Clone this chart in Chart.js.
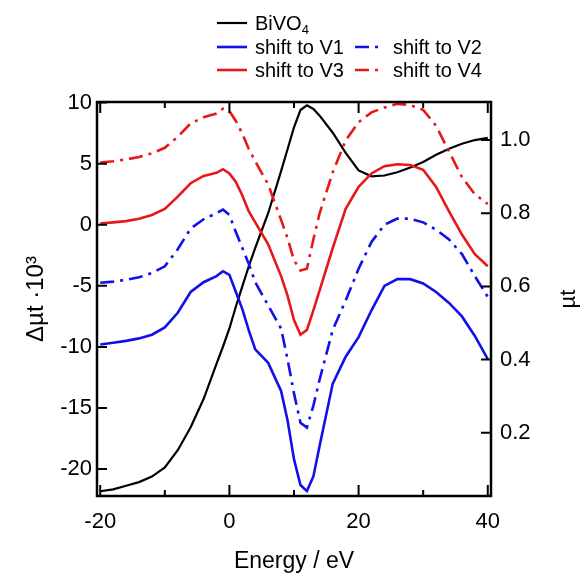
<!DOCTYPE html>
<html>
<head>
<meta charset="utf-8">
<script src="https://cdn.jsdelivr.net/npm/chart.js@4.4.1/dist/chart.umd.min.js"></script>
<style>
body { margin: 0; background: #fff; font-family: 'Liberation Sans', Arial, sans-serif; }
#wrap { position: relative; width: 584px; height: 574px; }
.key { position: absolute; font-size: 20px; line-height: 20px; color: #000; white-space: nowrap; }
.key sub { font-size: 13px; vertical-align: -4px; line-height: 0; }
.swatch { position: absolute; }
</style>
</head>
<body>
<div id="wrap">
    <canvas id="xasChart" width="584" height="574"></canvas>
    <div id="legend"></div>
</div>
<script>
// energy grid (eV) shared by all curves
const energy = [-20, -18, -16, -14, -12, -10, -8, -6, -4, -2, -1, 0, 1, 2, 3, 4, 6, 8, 9, 10,
    11, 12, 13, 14, 16, 18, 20, 22, 24, 26, 28, 30, 32, 34, 36, 38, 40];

// BiVO4 absorption (right axis, µt)
const bivo4 = [0.04, 0.045, 0.055, 0.065, 0.08, 0.105, 0.152, 0.215, 0.292, 0.388, 0.435, 0.485, 0.545, 0.6, 0.655, 0.705, 0.8, 0.915, 0.975, 1.035,
    1.082, 1.095, 1.085, 1.066, 1.02, 0.965, 0.917, 0.901, 0.903, 0.912, 0.925, 0.94, 0.96, 0.976, 0.99, 1.0, 1.006];

// difference spectra (left axis, Δµt·10³)
const shiftV1 = [-9.8, -9.65, -9.5, -9.3, -9.0, -8.4, -7.2, -5.5, -4.7, -4.2, -3.8, -4.1, -5.5, -6.9, -8.65, -10.2, -11.3, -13.6, -16.0, -19.2,
    -21.3, -21.8, -20.6, -18.0, -13.0, -10.8, -9.2, -7.0, -5.0, -4.45, -4.45, -4.8, -5.5, -6.4, -7.5, -9.1, -11.0];
const shiftV2 = [-4.75, -4.65, -4.5, -4.3, -3.95, -3.4, -2.0, -0.3, 0.45, 0.95, 1.25, 0.8, -0.6, -1.9, -3.2, -4.7, -6.6, -8.5, -11.0, -13.8,
    -16.2, -16.6, -14.8, -12.6, -8.6, -6.2, -3.6, -1.4, 0.0, 0.5, 0.5, 0.2, -0.4, -1.2, -2.4, -4.2, -5.9];
const shiftV3 = [0.1, 0.2, 0.3, 0.5, 0.8, 1.3, 2.3, 3.4, 4.0, 4.25, 4.55, 4.2, 3.5, 2.4, 1.1, 0.2, -1.6, -4.2, -5.8, -7.8,
    -9.0, -8.6, -7.0, -5.3, -1.9, 1.3, 3.1, 4.2, 4.8, 4.95, 4.9, 4.5, 3.1, 1.1, -0.8, -2.4, -3.4];
const shiftV4 = [5.1, 5.2, 5.35, 5.55, 5.85, 6.3, 7.2, 8.3, 8.8, 9.1, 9.5, 9.3, 8.5, 7.45, 6.2, 5.2, 3.3, 0.4, -1.1, -2.9,
    -3.75, -3.6, -1.2, 1.0, 4.3, 6.9, 8.4, 9.2, 9.6, 9.9, 9.8, 9.4, 8.1, 6.0, 3.9, 2.5, 1.7];

const xTicks = [-20, 0, 20, 40];
const xMinorTicks = [-10, 10, 30];
const leftTicks = [-20, -15, -10, -5, 0, 5, 10];
const rightTicks = [0.2, 0.4, 0.6, 0.8, 1.0];

const blue = '#1010ea';
const red = '#e81818';
const dashDot = [14, 6, 3, 6];
const font = '"Liberation Sans", Arial, sans-serif';

// legend (html, laid out like the original figure)
const legendItems = [
    { html: 'BiVO<sub>4</sub>', color: '#000', dash: null, x: 217, y: 23, w: 30 },
    { html: 'shift to V1', color: blue, dash: null, x: 217, y: 47, w: 30 },
    { html: 'shift to V2', color: blue, dash: dashDot, x: 355, y: 47, w: 27 },
    { html: 'shift to V3', color: red, dash: null, x: 217, y: 70, w: 30 },
    { html: 'shift to V4', color: red, dash: dashDot, x: 355, y: 70, w: 27 }
];
let legendDiv = document.getElementById("legend");
legendItems.forEach(it => {
    let dashAttr = it.dash ? `stroke-dasharray="${it.dash.join(' ')}"` : '';
    let lw = it.color === '#000' ? 2.2 : 2.6;
    legendDiv.innerHTML += `
        <svg class="swatch" style="left:${it.x}px; top:${it.y - 3}px;" width="${it.w}" height="6">
            <line x1="0" y1="3" x2="${it.w}" y2="3" stroke="${it.color}" stroke-width="${lw}" ${dashAttr}/>
        </svg>
        <div class="key" style="left:${it.x + 38}px; top:${it.y - 10}px;">${it.html}</div>`;
});

function pts(ys) {
    return energy.map((e, i) => ({ x: e, y: ys[i] }));
}

const frameAndTicks = {
    id: 'frameAndTicks',
    afterDatasetsDraw(chart) {
        const { ctx, chartArea: a, scales } = chart;
        ctx.save();
        ctx.strokeStyle = '#000';
        ctx.lineWidth = 2.5;
        ctx.strokeRect(a.left, a.top, a.right - a.left, a.bottom - a.top);

        ctx.lineWidth = 2;
        ctx.beginPath();
        xTicks.forEach(v => {
            let px = scales.x.getPixelForValue(v);
            ctx.moveTo(px, a.bottom); ctx.lineTo(px, a.bottom - 11);
            ctx.moveTo(px, a.top); ctx.lineTo(px, a.top + 11);
        });
        xMinorTicks.forEach(v => {
            let px = scales.x.getPixelForValue(v);
            ctx.moveTo(px, a.bottom); ctx.lineTo(px, a.bottom - 6);
            ctx.moveTo(px, a.top); ctx.lineTo(px, a.top + 6);
        });
        leftTicks.forEach(v => {
            let py = scales.y.getPixelForValue(v);
            ctx.moveTo(a.left, py); ctx.lineTo(a.left + 10, py);
        });
        rightTicks.forEach(v => {
            let py = scales.yr.getPixelForValue(v);
            ctx.moveTo(a.right, py); ctx.lineTo(a.right - 10, py);
        });
        ctx.stroke();

        // axis titles
        let midY = (a.top + a.bottom) / 2;
        ctx.fillStyle = '#000';
        ctx.textAlign = 'center';
        ctx.textBaseline = 'middle';
        ctx.font = '23px ' + font;
        ctx.fillText('Energy / eV', (a.left + a.right) / 2, 562);
        ctx.font = '24px ' + font;
        ctx.save();
        ctx.translate(36, midY);
        ctx.rotate(-Math.PI / 2);
        ctx.fillText('Δµt ·10³', 0, 0);
        ctx.restore();
        ctx.font = '22px ' + font;
        ctx.save();
        ctx.translate(569, midY);
        ctx.rotate(-Math.PI / 2);
        ctx.fillText('µt', 0, 0);
        ctx.restore();
        ctx.restore();
    }
};

const tickFont = { family: font, size: 22 };

new Chart(document.getElementById("xasChart"), {
    type: "line",
    data: {
        datasets: [
            { label: "shift to V1", data: pts(shiftV1), yAxisID: 'y', borderColor: blue, borderWidth: 2.6 },
            { label: "shift to V2", data: pts(shiftV2), yAxisID: 'y', borderColor: blue, borderWidth: 2.6, borderDash: dashDot },
            { label: "shift to V3", data: pts(shiftV3), yAxisID: 'y', borderColor: red, borderWidth: 2.6 },
            { label: "shift to V4", data: pts(shiftV4), yAxisID: 'y', borderColor: red, borderWidth: 2.6, borderDash: dashDot },
            { label: "BiVO4", data: pts(bivo4), yAxisID: 'yr', borderColor: '#000', borderWidth: 2.2 }
        ]
    },
    options: {
        responsive: false,
        animation: false,
        devicePixelRatio: 1,
        layout: { padding: { top: 102, left: 0, right: 0, bottom: 0 } },
        elements: { point: { radius: 0 }, line: { tension: 0, fill: false } },
        plugins: { legend: { display: false }, tooltip: { enabled: false } },
        scales: {
            x: {
                type: 'linear', position: 'bottom', min: -20.5, max: 40.5,
                grid: { display: false, drawTicks: false }, border: { display: false },
                ticks: { font: tickFont, color: '#000', padding: 13, autoSkip: false, maxRotation: 0 },
                afterBuildTicks: s => { s.ticks = xTicks.map(v => ({ value: v })); },
                afterFit: s => { s.height = 78; }
            },
            y: {
                type: 'linear', position: 'left', min: -22.2, max: 10.05,
                grid: { display: false, drawTicks: false }, border: { display: false },
                ticks: { font: tickFont, color: '#000', padding: 5, autoSkip: false },
                afterBuildTicks: s => { s.ticks = leftTicks.map(v => ({ value: v })); },
                afterFit: s => { s.width = 97; }
            },
            yr: {
                type: 'linear', position: 'right', min: 0.027, max: 1.104,
                grid: { display: false, drawTicks: false }, border: { display: false },
                ticks: { font: tickFont, color: '#000', padding: 9, autoSkip: false, callback: v => v.toFixed(1) },
                afterBuildTicks: s => { s.ticks = rightTicks.map(v => ({ value: v })); },
                afterFit: s => { s.width = 93; }
            }
        }
    },
    plugins: [frameAndTicks]
});
</script>
</body>
</html>
